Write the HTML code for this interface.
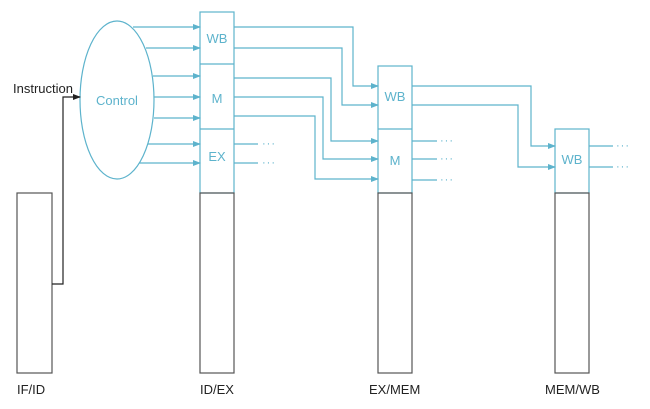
<!DOCTYPE html>
<html><head><meta charset="utf-8"><style>html,body{margin:0;padding:0;background:#fff}svg{display:block}</style></head><body>
<svg width="650" height="409" viewBox="0 0 650 409" xmlns="http://www.w3.org/2000/svg" font-family="Liberation Sans, sans-serif">
<defs>
<marker id="a" markerWidth="8" markerHeight="6" refX="7" refY="3" orient="auto" markerUnits="userSpaceOnUse"><path d="M0,0 L8,3 L0,6 z" fill="#5db3cc"/></marker>
<marker id="k" markerWidth="8" markerHeight="6" refX="7" refY="3" orient="auto" markerUnits="userSpaceOnUse"><path d="M0,0 L8,3 L0,6 z" fill="#222"/></marker>
</defs>
<g fill="none" stroke="#5db3cc" stroke-width="1.2">
<ellipse cx="117" cy="100" rx="37" ry="79"/>
<!-- control to ID/EX -->
<line x1="133" y1="27" x2="200" y2="27" marker-end="url(#a)"/>
<line x1="146" y1="48" x2="200" y2="48" marker-end="url(#a)"/>
<line x1="153" y1="76" x2="200" y2="76" marker-end="url(#a)"/>
<line x1="154" y1="97" x2="200" y2="97" marker-end="url(#a)"/>
<line x1="154" y1="118" x2="200" y2="118" marker-end="url(#a)"/>
<line x1="148" y1="144" x2="200" y2="144" marker-end="url(#a)"/>
<line x1="139" y1="163" x2="200" y2="163" marker-end="url(#a)"/>
<!-- ID/EX box -->
<rect x="200" y="12" width="34" height="181"/>
<line x1="200" y1="64" x2="234" y2="64"/>
<line x1="200" y1="129" x2="234" y2="129"/>
<!-- ID/EX outputs -->
<polyline points="234,27 353,27 353,86 378,86" marker-end="url(#a)"/>
<polyline points="234,48 342,48 342,105 378,105" marker-end="url(#a)"/>
<polyline points="234,78 331,78 331,141 378,141" marker-end="url(#a)"/>
<polyline points="234,97 323,97 323,159 378,159" marker-end="url(#a)"/>
<polyline points="234,116 315,116 315,179 378,179" marker-end="url(#a)"/>
<line x1="234" y1="144" x2="258" y2="144"/>
<line x1="234" y1="163" x2="258" y2="163"/>
<!-- EX/MEM -->
<rect x="378" y="66" width="34" height="127"/>
<line x1="378" y1="129" x2="412" y2="129"/>
<polyline points="412,86 531,86 531,146 555,146" marker-end="url(#a)"/>
<polyline points="412,105 518,105 518,167 555,167" marker-end="url(#a)"/>
<line x1="412" y1="141" x2="437" y2="141"/>
<line x1="412" y1="159" x2="437" y2="159"/>
<line x1="412" y1="180" x2="437" y2="180"/>
<!-- MEM/WB -->
<rect x="555" y="129" width="34" height="64"/>
<line x1="589" y1="146" x2="613" y2="146"/>
<line x1="589" y1="167" x2="613" y2="167"/>
</g>
<g fill="#5db3cc" font-size="13">
<text x="117" y="105" text-anchor="middle">Control</text>
<text x="217" y="43" text-anchor="middle">WB</text>
<text x="217" y="103" text-anchor="middle">M</text>
<text x="217" y="161" text-anchor="middle">EX</text>
<text x="395" y="101" text-anchor="middle">WB</text>
<text x="395" y="165" text-anchor="middle">M</text>
<text x="572" y="164" text-anchor="middle">WB</text>
<g font-size="11" letter-spacing="1">
<text x="262" y="147">···</text><text x="262" y="166">···</text>
<text x="440" y="144">···</text><text x="440" y="162">···</text><text x="440" y="183">···</text>
<text x="616" y="149">···</text><text x="616" y="170">···</text>
</g>
</g>
<g fill="none" stroke="#555" stroke-width="1.2">
<rect x="17" y="193" width="35" height="180"/>
<rect x="200" y="193" width="34" height="180"/>
<rect x="378" y="193" width="34" height="180"/>
<rect x="555" y="193" width="34" height="180"/>
<polyline points="52,284 63,284 63,97 80,97" stroke="#222" marker-end="url(#k)"/>
</g>
<g fill="#222" font-size="13">
<text x="13" y="93">Instruction</text>
<text x="17" y="394">IF/ID</text>
<text x="200" y="394">ID/EX</text>
<text x="369" y="394">EX/MEM</text>
<text x="545" y="394">MEM/WB</text>
</g>
</svg>
</body></html>
